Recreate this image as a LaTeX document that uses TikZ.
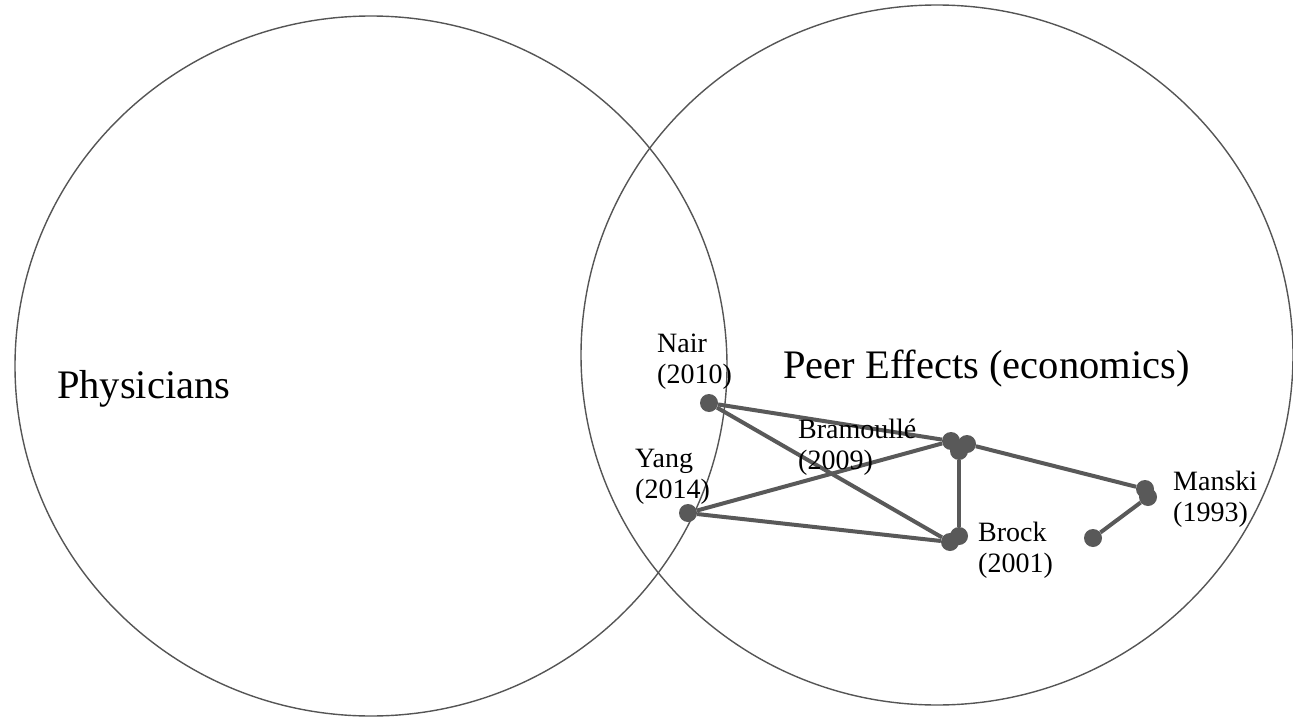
\documentclass[tikz,border=0pt]{standalone}
\usepackage{fontspec}
\setmainfont{Liberation Serif}
\usepackage{tikz}
\usetikzlibrary{shapes.geometric,positioning}
\definecolor{edgegray}{RGB}{89,89,89}
\definecolor{ringgray}{RGB}{85,85,85}

\begin{document}
\begin{tikzpicture}[x=1pt, y=-1pt]
\tikzstyle{field} = [ellipse, draw=ringgray, line width=1.4pt, minimum width=712pt, minimum height=700pt, inner sep=0pt]
\tikzstyle{paper} = [circle, fill=edgegray, minimum size=18pt, inner sep=0pt]
\tikzstyle{link} = [draw=edgegray, line width=4pt]
\tikzstyle{cite} = [anchor=base west, inner sep=0pt, font=\fontsize{28}{31}\selectfont]
\tikzstyle{title} = [anchor=base west, inner sep=0pt, font=\fontsize{40.5}{48}\selectfont]

\useasboundingbox (0,0) rectangle (1293,717);

\node (physicians) [field] at (371,366) {};
\node (peers) [field] at (937,355) {};
\node (physlab) [title] at (57,398) {Physicians};
\node (peerlab) [title] at (783,378) {Peer Effects (economics)};

\node (nair) [paper] at (709,403) {};
\node (yang) [paper] at (688,513) {};
\node (bramA) [paper] at (951,441) {};
\node (bramB) [paper] at (967,444) {};
\node (bramC) [paper] at (959,451) {};
\node (brockA) [paper] at (950,542) {};
\node (brockB) [paper] at (959,536) {};
\node (manskiA) [paper] at (1145,489) {};
\node (manskiB) [paper] at (1148,497) {};
\node (other) [paper] at (1093,538) {};

\draw [link] (nair) -- (bramA);
\draw [link] (nair) -- (brockA);
\draw [link] (yang) -- (bramA);
\draw [link] (yang) -- (brockA);
\draw [link] (bramC) -- (brockB);
\draw [link] (bramB) -- (manskiA);
\draw [link] (manskiB) -- (other);

\node (nairlab) [cite] at (657,352) {\begin{tabular}[t]{@{}l@{}}Nair\\(2010)\end{tabular}};
\node (bramlab) [cite] at (798,438) {\begin{tabular}[t]{@{}l@{}}Bramoullé\\(2009)\end{tabular}};
\node (yanglab) [cite] at (635,467) {\begin{tabular}[t]{@{}l@{}}Yang\\(2014)\end{tabular}};
\node (brocklab) [cite] at (978,541) {\begin{tabular}[t]{@{}l@{}}Brock\\(2001)\end{tabular}};
\node (manskilab) [cite] at (1173,490) {\begin{tabular}[t]{@{}l@{}}Manski\\(1993)\end{tabular}};
\end{tikzpicture}
\end{document}
